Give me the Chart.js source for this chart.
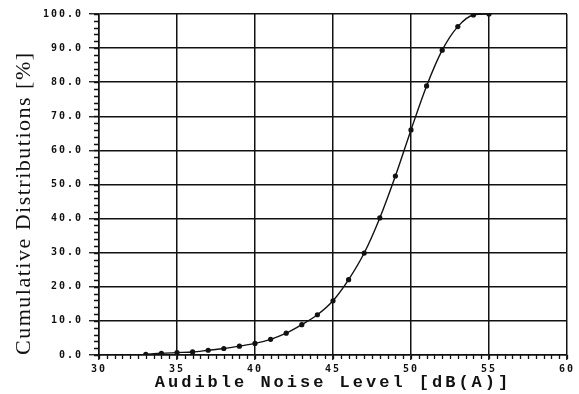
<!DOCTYPE html>
<html>
<head>
<meta charset="utf-8">
<script src="https://cdn.jsdelivr.net/npm/chart.js@4/dist/chart.umd.min.js"></script>
<style>
html,body{margin:0;padding:0;background:#fff;}
#wrap{width:579px;height:394px;}
</style>
</head>
<body>
<div id="wrap"><canvas id="c" width="579" height="394"></canvas></div>
<script>
// ---- data ----
const noiseLevels = [33,34,35,36,37,38,39,40,41,42,43,44,45,46,47,48,49,50,51,52,53,54,55];
const cumulativePct = [0.2,0.5,0.7,0.9,1.4,1.9,2.6,3.4,4.6,6.4,8.9,11.8,15.9,22.1,29.9,40.2,52.5,66.0,78.9,89.4,96.3,99.7,100.0];
const xTitle = 'Audible Noise Level [dB(A)]';
const yTitle = 'Cumulative Distributions [%]';
const xRange = [30, 60];
const yRange = [0, 100];
const xMajorStep = 5, xMinorStep = 0.5;
const yMajorStep = 10, yMinorStep = 2;

const points = noiseLevels.map((x, i) => ({x: x, y: cumulativePct[i]}));

const ink = '#111';

const minorTicks = {
  id: 'minorTicks',
  afterDraw(chart) {
    const {ctx, chartArea, scales: {x, y}} = chart;
    ctx.save();
    ctx.strokeStyle = ink;
    ctx.lineWidth = 1.3;
    ctx.beginPath();
    for (let v = xRange[0]; v <= xRange[1] + 1e-9; v += xMinorStep) {
      const px = Math.round(x.getPixelForValue(v)) + 0.5;
      ctx.moveTo(px, chartArea.bottom);
      ctx.lineTo(px, chartArea.bottom + 4);
    }
    for (let v = yRange[0]; v <= yRange[1] + 1e-9; v += yMinorStep) {
      const py = Math.round(y.getPixelForValue(v)) + 0.5;
      ctx.moveTo(chartArea.left - 5, py);
      ctx.lineTo(chartArea.left, py);
    }
    ctx.stroke();
    ctx.restore();
  }
};

const spacing = {
  id: 'spacing',
  beforeDraw(chart) {
    const patch = (scale, labelSp, titleSp) => {
      if (scale.__patched) return;
      scale.__patched = true;
      const dl = scale.drawLabels.bind(scale);
      const dt = scale.drawTitle.bind(scale);
      scale.drawLabels = function(a) { const c = this.ctx; c.save(); c.letterSpacing = labelSp; dl(a); c.restore(); };
      scale.drawTitle = function(a) { const c = this.ctx; c.save(); c.letterSpacing = titleSp; dt(a); c.restore(); };
    };
    patch(chart.scales.x, '2px', '3px');
    patch(chart.scales.y, '2px', '1.5px');
  }
};

new Chart(document.getElementById('c'), {
  type: 'line',
  data: {
    datasets: [{
      data: points,
      borderColor: ink,
      borderWidth: 1.4,
      backgroundColor: ink,
      pointStyle: 'circle',
      pointRadius: 2.6,
      pointBorderWidth: 0,
      cubicInterpolationMode: 'monotone',
      fill: false
    }]
  },
  options: {
    responsive: false,
    animation: false,
    layout: {padding: {top: 14, right: 12, left: 0, bottom: 0}},
    plugins: {legend: {display: false}, tooltip: {enabled: false}},
    scales: {
      x: {
        type: 'linear',
        min: xRange[0], max: xRange[1],
        afterFit(s) { s.height = 39; },
        ticks: {
          stepSize: xMajorStep,
          color: ink,
          padding: 3,
          maxRotation: 0,
          font: {family: 'DejaVu Sans Mono', size: 10, weight: 'bold'},
          callback: v => String(v)
        },
        grid: {color: ink, lineWidth: 1.5, tickLength: 5, tickColor: ink, tickWidth: 1.3},
        border: {color: ink, width: 1.5},
        title: {
          display: true, text: xTitle, color: ink,
          font: {family: 'Liberation Mono', size: 17, weight: 'bold'},
          padding: {top: 0, bottom: 1}
        }
      },
      y: {
        type: 'linear',
        min: yRange[0], max: yRange[1],
        afterFit(s) { s.width = 99; },
        ticks: {
          stepSize: yMajorStep,
          color: ink,
          padding: 6,
          font: {family: 'DejaVu Sans Mono', size: 10, weight: 'bold'},
          callback: v => Number(v).toFixed(1)
        },
        grid: {color: ink, lineWidth: 1.5, tickLength: 10, tickColor: ink, tickWidth: 1.3},
        border: {color: ink, width: 1.5},
        title: {
          display: true, text: yTitle, color: ink, align: 'start',
          font: {family: 'Liberation Serif', size: 22, weight: 'normal'},
          padding: {top: 11, bottom: 0}
        }
      }
    }
  },
  plugins: [minorTicks, spacing]
});
</script>
</body>
</html>
